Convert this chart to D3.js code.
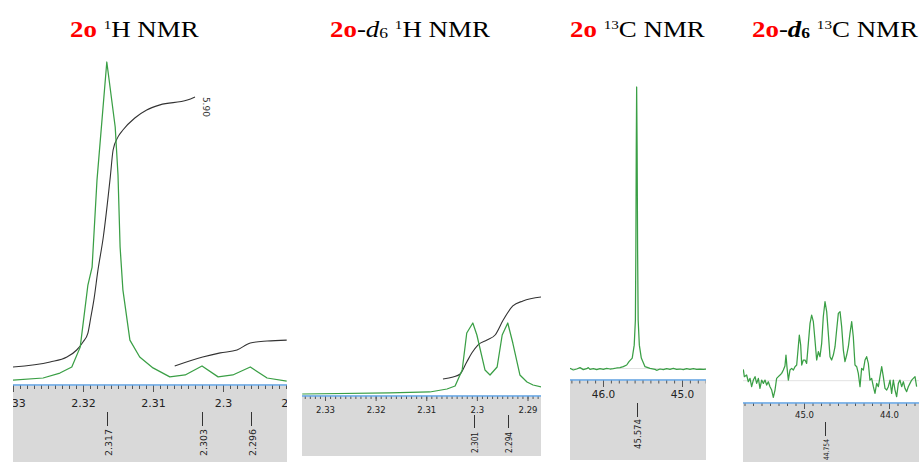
<!DOCTYPE html>
<html><head><meta charset="utf-8">
<script src="https://cdn.jsdelivr.net/npm/d3@7"></script>
<style>
body{margin:0;background:#fff;}
svg{display:block;}
text{white-space:pre;}
</style></head><body>
<svg id="c" width="919" height="462"></svg>
<script>
// ---------- DATA ----------
// Panel 1: 2o 1H NMR
const h1PPM = [2.3300,2.3257,2.3233,2.3216,2.3204,2.3193,2.3187,2.3180,2.3166,2.3154,2.3150,2.3147,2.3143,2.3133,2.3119,2.3100,2.3076,2.3054,2.3030,2.3007,2.2986,2.2961,2.2937,2.2909];
const h1Int = [0.6,1.25,2.8,4.7,10.9,30.3,35.9,63.1,100,79.7,64.7,42.2,28.8,13.1,7.8,4.4,1.6,2.2,5.0,1.6,2.2,4.7,1.25,0.3];
const h1IntegralAPPM = [2.3300,2.3247,2.3223,2.3209,2.3200,2.3193,2.3189,2.3184,2.3179,2.3171,2.3161,2.3157,2.3150,2.3143,2.3126,2.3109,2.3090,2.3051,2.3040];
const h1IntegralA = [4.7,6.25,7.8,10.0,12.5,15.3,20.0,26.3,34.4,45.3,64.1,72.5,76.6,78.75,82.5,85.0,86.6,88.1,89.1];
const h1IntegralBPPM = [2.3069,2.3029,2.3004,2.2980,2.2961,2.2937,2.2909];
const h1IntegralB = [5.0,7.8,9.1,10.0,12.2,12.8,13.1];
const h1IntegralValue = "5.90";
const h1Peaks = [2.3166,2.3030,2.2960];
const h1Ticks = [2.33,2.32,2.31,2.30,2.29];
const h1TickLabels = ["2.33","2.32","2.31","2.3","2.29"];

// Panel 2: 2o-d6 1H NMR
const d6hPPM = [2.3345,2.3172,2.3093,2.3059,2.3043,2.3029,2.3020,2.3008,2.3000,2.2984,2.2974,2.2960,2.2950,2.2939,2.2929,2.2915,2.2901,2.2889,2.2873];
const d6hInt = [0.7,2.1,3.5,7.7,11.9,34.3,86,100,83.2,34.3,27.3,38.5,83.2,100,72,27.3,17.5,13.3,10.5];
const d6hIntegralPPM = [2.3067,2.3047,2.3033,2.3020,2.3010,2.2998,2.2980,2.2964,2.2948,2.2929,2.2909,2.2873];
const d6hIntegral = [21.7,24.5,28.7,45.5,58,69.2,76.2,83.2,104.2,123.8,130.8,136.4];
const d6hPeaks = [2.3008,2.2940];
const d6hTicks = [2.33,2.32,2.31,2.30,2.29];
const d6hTickLabels = ["2.33","2.32","2.31","2.3","2.29"];

// Panel 3: 2o 13C NMR
const c13PPM = [46.418,46.376,46.333,46.291,46.249,46.207,46.186,46.165,46.122,46.080,46.038,45.996,45.954,45.911,45.869,45.827,45.785,45.743,45.700,45.671,
  45.630,45.605,45.590,45.584,45.579,45.574,45.568,45.562,45.555,45.540,45.515,
  45.468,45.405,45.342,45.321,45.278,45.236,45.194,45.152,45.110,45.068,45.025,44.983,44.941,44.899,44.857,44.814,44.772,44.730,44.696];
const c13Int = [0.06,-0.53,-0.18,0.30,-0.41,-0.06,0.30,-0.30,-0.06,-0.41,-0.06,-0.30,0.06,-0.18,-0.06,0.18,0.30,0.65,1.24,2.43,
  3.7,8.3,17.2,42,77.6,100,77.6,42,17.2,8.3,3.7,
  0.65,0.06,-0.30,-0.65,-0.18,-0.41,-0.06,-0.30,0.06,-0.30,-0.18,-0.41,-0.06,-0.30,-0.06,-0.30,-0.18,-0.30,-0.18];
const c13Peaks = [45.574];
const c13Ticks = [46.0,45.0];
const c13TickLabels = ["46.0","45.0"];

// Panel 4: 2o-d6 13C NMR
const d6cPPM = [45.714,45.702,45.675,45.655,45.635,45.616,45.596,45.576,45.557,45.537,45.518,45.498,45.478,45.459,45.439,45.420,45.400,45.380,45.361,45.341,
  45.322,45.302,45.282,45.263,45.243,45.224,45.212,45.200,45.184,45.165,45.145,45.125,45.106,45.086,45.067,45.055,45.039,45.027,45.008,44.988,
  44.969,44.949,44.929,44.910,44.890,44.871,44.851,44.831,44.812,44.792,44.773,44.753,44.733,44.714,44.694,44.675,44.655,44.635,44.616,44.596,
  44.576,44.557,44.537,44.518,44.498,44.478,44.459,44.439,44.420,44.400,44.380,44.361,44.341,44.322,44.302,44.282,44.263,44.243,44.224,44.204,
  44.184,44.165,44.145,44.125,44.106,44.086,44.067,44.047,44.027,44.008,43.988,43.969,43.949,43.929,43.910,43.890,43.871,43.851,43.831,43.812,
  43.792,43.773,43.753,43.733,43.714,43.694,43.675];
const d6cInt = [14.3,5.1,7.2,-1.3,3.0,-7.6,0.8,5.1,-3.4,3.0,-9.7,0.8,-3.4,0.8,-5.5,-1.3,-7.6,-11.8,-21.1,-11.8,
  3.0,5.1,7.2,9.3,13.5,18.6,32.5,16.9,0.8,13.5,15.6,13.5,17.7,19.8,43.0,57.8,45.2,19.8,26.2,26.2,
  21.9,47.3,72.6,83.1,74.7,51.5,26.2,36.7,30.4,47.3,81.0,100,87.4,59.9,30.4,26.2,32.5,43.0,64.1,85.2,
  87.4,68.4,38.8,24.1,32.5,43.0,59.9,74.7,55.7,19.8,17.7,9.3,-7.6,15.6,13.5,26.2,30.4,21.9,0.8,3.0,
  -7.6,-16.0,-3.4,-7.6,5.1,17.7,5.1,-9.7,-11.8,-7.6,0.8,-16.0,0.8,-11.8,-20.3,-3.4,0.8,-7.6,-1.3,-9.7,
  -13.9,-7.6,-3.4,0.8,3.0,5.1,-7.6];
const d6cPeaks = [44.754];
const d6cTicks = [45.0,44.0];
const d6cTickLabels = ["45.0","44.0"];

// ---------- LAYOUT ----------
const GREEN = "#3a9f45", BLUE = "#5d9fe0", GRAY = "#d9d9d9";
const svg = d3.select("#c");

const panels = [
  {x0:13,x1:287, dom:[2.33,2.29], rng:[13,293], yr:[382,62], axisY:385, grayBot:462,
   minor:[2290,2331,1000], major:7, minorLen:4, tickFont:11, tickY:22,
   peakFont:9.5, peakLen:27, peakLine:[412,426], peakTextTop:429, peakDx:0,
   ppm:h1PPM, int:h1Int, ticks:h1Ticks, tickLabels:h1TickLabels, peaks:h1Peaks,
   integrals:[[h1IntegralAPPM,h1IntegralA],[h1IntegralBPPM,h1IntegralB]], zero:false},
  {x0:302,x1:541, dom:[2.33,2.29], rng:[325,527.5], yr:[394.5,323], axisY:396, grayBot:456,
   minor:[2287,2336,1000], major:5, minorLen:3, tickFont:8.5, tickY:17,
   peakFont:8, peakLen:21, peakLine:[415,428], peakTextTop:432, peakDx:1,
   ppm:d6hPPM, int:d6hInt, ticks:d6hTicks, tickLabels:d6hTickLabels, peaks:d6hPeaks,
   integrals:[[d6hIntegralPPM,d6hIntegral]], zero:false},
  {x0:570,x1:706, dom:[46,45], rng:[603,682], yr:[368.5,87], axisY:380, grayBot:460,
   minor:[447,465,10], major:7, minorLen:3.5, tickFont:10.5, tickY:18,
   peakFont:9, peakLen:30, peakLine:[403,417], peakTextTop:419, peakDx:0,
   ppm:c13PPM, int:c13Int, ticks:c13Ticks, tickLabels:c13TickLabels, peaks:c13Peaks,
   integrals:[], zero:true},
  {x0:743,x1:919, dom:[45,44], rng:[804,889], yr:[380.7,301.7], axisY:403, grayBot:462,
   minor:[437,458,10], major:6, minorLen:3, tickFont:8.5, tickY:15,
   peakFont:7.5, peakLen:21, peakLine:[422,436], peakTextTop:439, peakDx:0,
   ppm:d6cPPM, int:d6cInt, ticks:d6cTicks, tickLabels:d6cTickLabels, peaks:d6cPeaks,
   integrals:[], zero:true}
];

const defs = svg.append("defs");
panels.forEach((p, i) => {
  defs.append("clipPath").attr("id", "clip" + i)
    .append("rect").attr("x", p.x0).attr("y", 0).attr("width", p.x1 - p.x0).attr("height", 462);
  const g = svg.append("g").attr("clip-path", `url(#clip${i})`);
  const x = d3.scaleLinear().domain(p.dom).range(p.rng);
  const y = d3.scaleLinear().domain([0, 100]).range(p.yr);

  // gray scale area
  g.append("rect").attr("x", p.x0).attr("y", p.axisY + 1).attr("width", p.x1 - p.x0)
    .attr("height", p.grayBot - p.axisY - 1).attr("fill", GRAY);

  if (p.zero) {
    g.append("line").attr("x1", p.x0).attr("x2", p.x1).attr("y1", y(0)).attr("y2", y(0))
      .attr("stroke", "#e2e2e2").attr("stroke-width", 1);
  }

  // integrals
  p.integrals.forEach(([pp, vv]) => {
    const line = d3.line().x(d => x(d[0])).y(d => y(d[1])).curve(d3.curveMonotoneX);
    g.append("path").datum(d3.zip(pp, vv)).attr("d", line)
      .attr("fill", "none").attr("stroke", "#333").attr("stroke-width", 1.1);
  });

  // spectrum
  const sline = d3.line().x(d => x(d[0])).y(d => y(d[1]));
  g.append("path").datum(d3.zip(p.ppm, p.int)).attr("d", sline)
    .attr("fill", "none").attr("stroke", GREEN).attr("stroke-width", 1.25)
    .attr("stroke-linejoin", "round");

  // axis
  const ag = g.append("g").attr("transform", `translate(0,${p.axisY})`);
  const minorVals = d3.range(p.minor[0], p.minor[1]).map(v => v / p.minor[2]);
  ag.append("g").call(d3.axisBottom(x).tickValues(minorVals).tickSize(p.minorLen).tickSizeOuter(0).tickFormat(""))
    .call(s => s.select(".domain").remove())
    .call(s => s.selectAll("line").attr("stroke", "#555"));
  ag.append("g").call(d3.axisBottom(x).tickValues(p.ticks).tickSize(p.major).tickSizeOuter(0)
      .tickFormat((d, k) => p.tickLabels[k]))
    .call(s => s.select(".domain").remove())
    .call(s => s.selectAll("line").attr("stroke", "#555"))
    .call(s => s.selectAll("text").attr("y", p.tickY).attr("dy", 0)
      .attr("font-family", "DejaVu Sans, sans-serif").attr("font-size", p.tickFont).attr("fill", "#222"));
  ag.append("line").attr("x1", p.x0).attr("x2", p.x1).attr("y1", 0).attr("y2", 0)
    .attr("stroke", BLUE).attr("stroke-width", 1.5);

  // peak labels
  p.peaks.forEach(v => {
    const px = Math.round(x(v)) + 0.5 + p.peakDx;
    g.append("line").attr("x1", px).attr("x2", px).attr("y1", p.peakLine[0]).attr("y2", p.peakLine[1])
      .attr("stroke", "#333").attr("stroke-width", 1);
    g.append("text").attr("transform", `translate(${px + 0.5},${p.peakTextTop}) rotate(-90)`)
      .attr("text-anchor", "end").attr("dominant-baseline", "central")
      .attr("font-family", "DejaVu Sans, sans-serif").attr("font-size", p.peakFont).attr("fill", "#222")
      .attr("textLength", p.peakLen).attr("lengthAdjust", "spacingAndGlyphs")
      .text(d3.format(".3f")(v));
  });

  // integral value label (panel 1)
  if (i === 0) {
    const n = h1IntegralAPPM.length - 1;
    g.append("text")
      .attr("transform", `translate(${x(h1IntegralAPPM[n]) + 11},${y(h1IntegralA[n])}) rotate(90)`)
      .attr("text-anchor", "start").attr("dominant-baseline", "central")
      .attr("font-family", "DejaVu Sans, sans-serif").attr("font-size", 9).attr("fill", "#333")
      .text(h1IntegralValue);
  }
});

// ---------- TITLES ----------
const titles = [
  {x:70, parts:[["2o","b"],[" ",""],["1","sup"],["H NMR",""]]},
  {x:330, parts:[["2o","b"],["-",""],["d","i"],["6","sub"],[" ",""],["1","sup"],["H NMR",""]]},
  {x:570, parts:[["2o","b"],[" ",""],["13","sup"],["C NMR",""]]},
  {x:752, parts:[["2o","b"],["-",""],["d","bi"],["6","subb"],[" ",""],["13","sup"],["C NMR",""]]}
];
titles.forEach(t => {
  const txt = svg.append("text").attr("transform", `translate(${t.x},37) scale(1.17,1)`)
    .attr("font-family", "Liberation Serif, Times New Roman, serif").attr("font-size", 23).attr("fill", "#000");
  let shift = 0;
  t.parts.forEach(([s, st]) => {
    const ts = txt.append("tspan").text(s);
    let target = 0;
    if (st === "b") ts.attr("font-weight", "bold").attr("fill", "#ff0000");
    if (st === "i") ts.attr("font-style", "italic");
    if (st === "bi") ts.attr("font-style", "italic").attr("font-weight", "bold");
    if (st === "sup") { ts.attr("font-size", 13); target = -8; }
    if (st === "sub") { ts.attr("font-size", 15); target = 1; }
    if (st === "subb") { ts.attr("font-size", 15).attr("font-weight", "bold"); target = 1; }
    ts.attr("dy", target - shift);
    shift = target;
  });
});
</script>
</body></html>
